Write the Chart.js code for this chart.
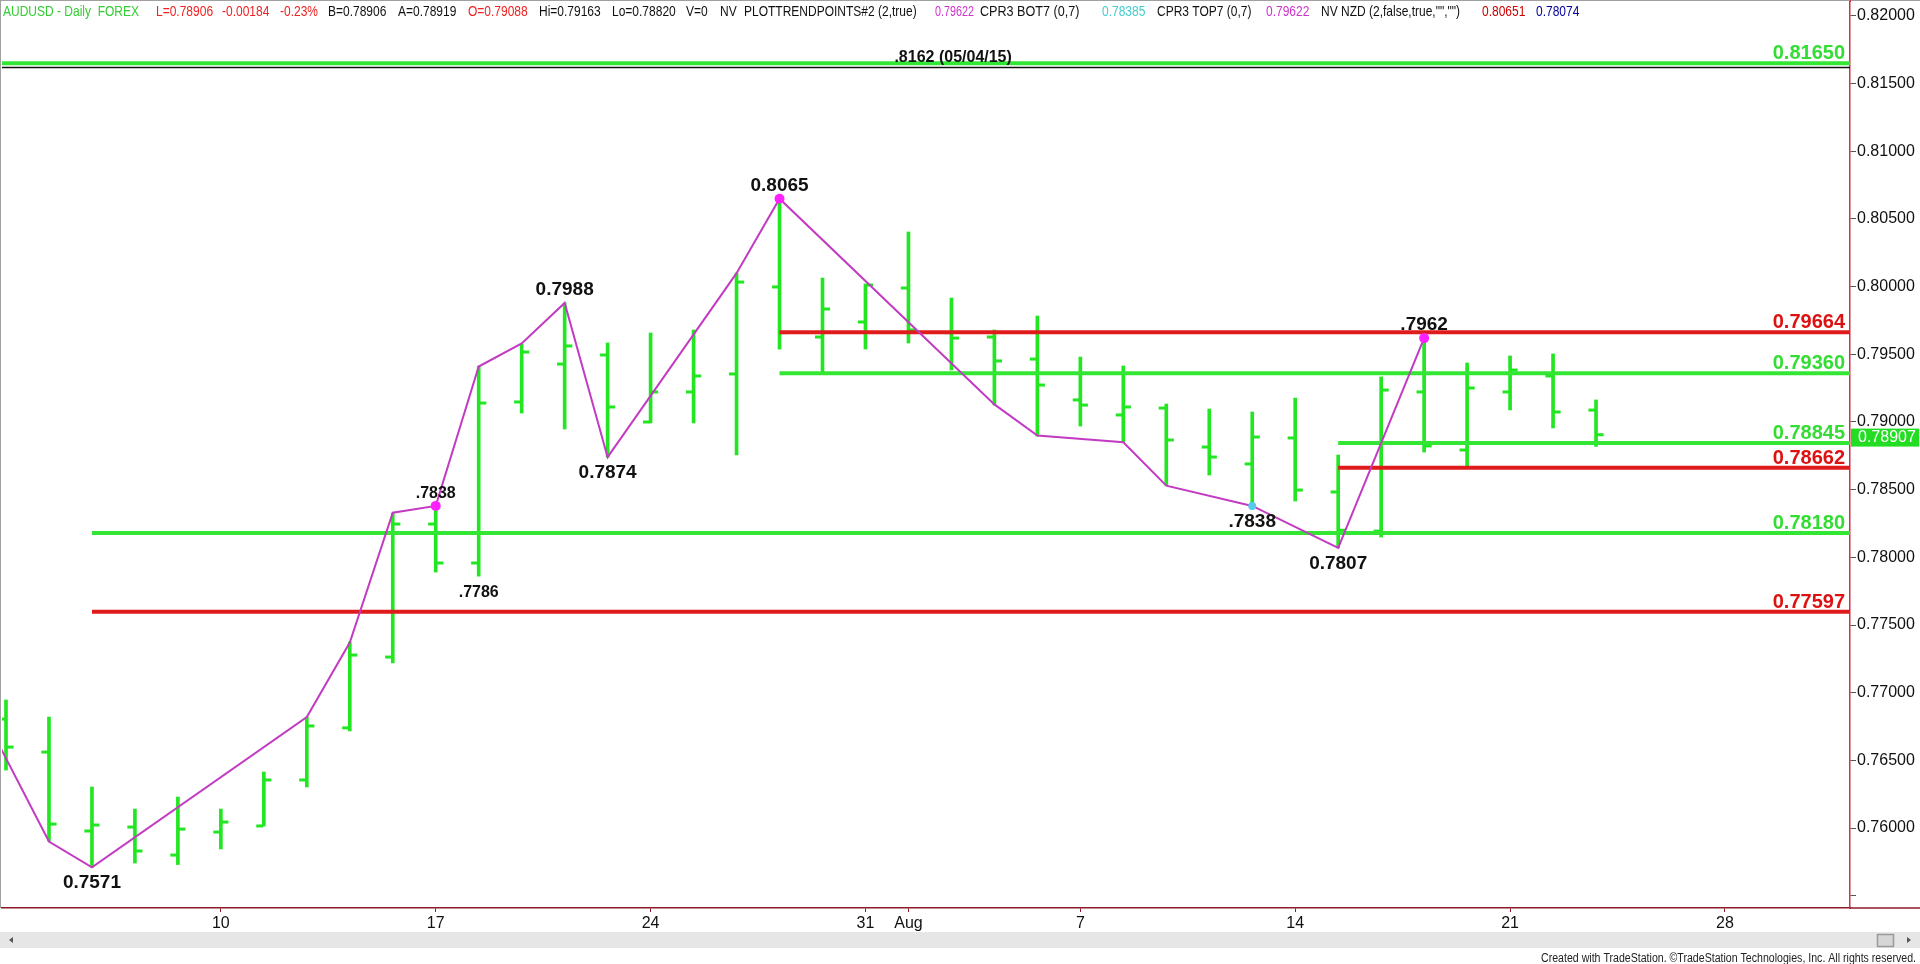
<!DOCTYPE html>
<html lang="en">
<head>
<meta charset="UTF-8">
<title>AUDUSD Daily</title>
<script src="https://cdn.jsdelivr.net/npm/chart.js@4"></script>
<style>
    html, body { margin: 0; padding: 0; background: #fff; }
    canvas { display: block; }
</style>
</head>
<body>
<canvas id="chart" width="1920" height="964"></canvas>
<script>
// daily bars, index 0 = Mon 3 Jul 2017 ... index 37 = Wed 23 Aug 2017
const opens  = [0.76805, 0.76561, 0.75978, 0.76007, 0.75800, 0.75970, 0.76015, 0.76355, 0.76740, 0.77263,
                0.78246, 0.77958, 0.79148, 0.79428, 0.79495, 0.79000, 0.79222, 0.79355, 0.79998, 0.79628,
                0.79739, 0.79990, 0.79660, 0.79628, 0.79465, 0.79163, 0.79052, 0.79103, 0.78815, 0.78690,
                0.78882, 0.78483, 0.78194, 0.79222, 0.78793, 0.79222, 0.79340, 0.79088];
const highs  = [0.76946, 0.76820, 0.76303, 0.76140, 0.76229, 0.76140, 0.76414, 0.76820, 0.77374, 0.78327,
                0.78380, 0.79414, 0.79576, 0.79880, 0.79584, 0.79658, 0.79680, 0.80100, 0.80650, 0.80064,
                0.80020, 0.80404, 0.79916, 0.79680, 0.79783, 0.79480, 0.79414, 0.79133, 0.79096, 0.79074,
                0.79177, 0.78756, 0.79333, 0.79620, 0.79436, 0.79488, 0.79503, 0.79163];
const lows   = [0.76428, 0.75904, 0.75710, 0.75741, 0.75730, 0.75845, 0.76015, 0.76303, 0.76717, 0.77219,
                0.77891, 0.77860, 0.79066, 0.78948, 0.78740, 0.78993, 0.78993, 0.78756, 0.79539, 0.79355,
                0.79539, 0.79584, 0.79384, 0.79125, 0.78896, 0.78970, 0.78852, 0.78534, 0.78608, 0.78380,
                0.78416, 0.78070, 0.78150, 0.78778, 0.78667, 0.79089, 0.78956, 0.78820];
const closes = [0.76598, 0.76029, 0.76022, 0.75830, 0.75992, 0.76044, 0.76355, 0.76754, 0.77278, 0.78246,
                0.77958, 0.79140, 0.79517, 0.79562, 0.79111, 0.79222, 0.79340, 0.80034, 0.79660, 0.79835,
                0.80012, 0.79680, 0.79620, 0.79451, 0.79273, 0.79125, 0.79111, 0.78867, 0.78741, 0.78889,
                0.78497, 0.78200, 0.79236, 0.78823, 0.79251, 0.79384, 0.79074, 0.78906];

// date axis (bar index -> label)
const xTickIdx    = [5, 10, 15, 20, 21, 25, 30, 35, 40];
const xTickLabels = ['10', '17', '24', '31', 'Aug', '7', '14', '21', '28'];

// price axis
const yTicks = [0.755, 0.760, 0.765, 0.770, 0.775, 0.780, 0.785, 0.790, 0.795, 0.800, 0.805, 0.810, 0.815, 0.820];

// swing (trend points) line
const swingIdx = [-1, 1, 2, 7, 8, 9, 10, 11, 12, 13, 14, 17, 18, 23, 24, 26, 27, 29, 31, 33];
const swingVal = [0.7713, 0.7590, 0.7571, 0.7682, 0.7737, 0.7833, 0.7838, 0.7941, 0.7958, 0.7988,
                  0.7874, 0.8010, 0.8065, 0.7913, 0.7890, 0.7885, 0.7853, 0.7838, 0.7807, 0.7962];

// labelled pivots
const pivotIdx    = [2, 10, 11, 13, 14, 18, 29, 31, 33];
const pivotVal    = [0.7571, 0.7838, 0.7786, 0.7988, 0.7874, 0.8065, 0.7838, 0.7807, 0.7962];
const pivotText   = ['0.7571', '.7838', '.7786', '0.7988', '0.7874', '0.8065', '.7838', '0.7807', '.7962'];
const pivotIsHigh = [false, true, false, true, false, true, false, false, true];

// marker dots
const topDotIdx = [10, 18, 33];
const topDotVal = [0.7838, 0.8065, 0.7962];
const botDotIdx = [29];
const botDotVal = [0.7838];

// support / resistance levels (start = bar index where the line begins)
const greenLevels = [0.81650, 0.79360, 0.78845, 0.78180];
const greenStart  = [-1, 18, 31, 2];
const redLevels   = [0.79664, 0.78662, 0.77597];
const redStart    = [18, 31, 2];

const prevHigh     = 0.8162;
const prevHighText = '.8162 (05/04/15)';
const lastPrice    = 0.78907;

// ---------------------------------------------------------------

const X_MIN = -0.093, X_MAX = 42.91;
const TICK_OFF = 0.095;
const BAR_GREEN = '#22e622';
const LVL_GREEN = '#33e633';
const LVL_RED = '#e01b1b';

Chart.defaults.font.family = 'Arial, "Liberation Sans", sans-serif';

const levelSets = [];
greenLevels.forEach((v, i) => levelSets.push({
    type: 'line', order: 3, borderColor: LVL_GREEN, borderWidth: 4, pointRadius: 0,
    data: [{x: greenStart[i], y: v}, {x: X_MAX, y: v}]
}));
redLevels.forEach((v, i) => levelSets.push({
    type: 'line', order: 3, borderColor: LVL_RED, borderWidth: 4, pointRadius: 0,
    data: [{x: redStart[i], y: v}, {x: X_MAX, y: v}]
}));

// status line: text, x, colour, horizontal squeeze
const header = [
    ['AUDUSD - Daily  FOREX', 3, '#33cc33', 0.8],
    ['L=0.78906', 156, '#ee2222', 0.8],
    ['-0.00184', 222, '#ee2222', 0.8],
    ['-0.23%', 280, '#ee2222', 0.8],
    ['B=0.78906', 328, '#111', 0.8],
    ['A=0.78919', 398, '#111', 0.8],
    ['O=0.79088', 468, '#ee2222', 0.8],
    ['Hi=0.79163', 539, '#111', 0.8],
    ['Lo=0.78820', 612, '#111', 0.8],
    ['V=0', 686, '#111', 0.8],
    ['NV', 720, '#111', 0.8],
    ['PLOTTRENDPOINTS#2 (2,true)', 744, '#111', 0.8],
    ['0.79622', 935, '#cc33cc', 0.72],
    ['CPR3 BOT7 (0,7)', 980, '#111', 0.84],
    ['0.78385', 1102, '#44cccc', 0.8],
    ['CPR3 TOP7 (0,7)', 1157, '#111', 0.8],
    ['0.79622', 1266, '#cc33cc', 0.8],
    ['NV NZD (2,false,true,"","")', 1321, '#111', 0.8],
    ['0.80651', 1482, '#cc0000', 0.8],
    ['0.78074', 1536, '#000099', 0.8]
];

const overlay = {
    id: 'overlay',
    afterDatasetsDraw(chart) {
        const {ctx, scales: {x, y}} = chart;
        ctx.save();

        // level values at right edge
        ctx.font = 'bold 20px Arial';
        ctx.textAlign = 'right';
        ctx.textBaseline = 'alphabetic';
        greenLevels.forEach(v => {
            ctx.fillStyle = '#33dd33';
            ctx.fillText(v.toFixed(5), x.right - 5, y.getPixelForValue(v) - 4);
        });
        redLevels.forEach(v => {
            ctx.fillStyle = '#dd1111';
            ctx.fillText(v.toFixed(5), x.right - 5, y.getPixelForValue(v) - 4);
        });

        // previous high label
        ctx.fillStyle = '#111';
        ctx.font = 'bold 16px Arial';
        ctx.textAlign = 'center';
        ctx.fillText(prevHighText, x.getPixelForValue(22.04), y.getPixelForValue(prevHigh) - 5);

        // pivot labels
        pivotIdx.forEach((idx, i) => {
            const small = pivotText[i] === '.7786' || (pivotText[i] === '.7838' && pivotIsHigh[i]);
            ctx.font = 'bold ' + (small ? 16 : 19) + 'px Arial';
            const px = x.getPixelForValue(idx);
            const py = y.getPixelForValue(pivotVal[i]);
            ctx.fillText(pivotText[i], px, pivotIsHigh[i] ? py - 8 : py + 21);
        });
        ctx.restore();
    },
    afterDraw(chart) {
        const {ctx, chartArea, scales: {y}} = chart;
        ctx.save();

        // frame
        ctx.strokeStyle = '#a0a0a0';
        ctx.lineWidth = 1;
        ctx.beginPath();
        ctx.moveTo(0, 0.5); ctx.lineTo(1920, 0.5);
        ctx.moveTo(0.5, 0); ctx.lineTo(0.5, chartArea.bottom);
        ctx.stroke();
        ctx.strokeStyle = '#d03040';
        ctx.beginPath();
        ctx.moveTo(chartArea.right + 0.5, 0); ctx.lineTo(chartArea.right + 0.5, chartArea.top);
        ctx.stroke();
        ctx.strokeStyle = '#8b1a2a';
        ctx.lineWidth = 1.5;
        ctx.beginPath();
        ctx.moveTo(chartArea.right, chartArea.bottom); ctx.lineTo(1920, chartArea.bottom);
        ctx.stroke();

        // header, narrow face
        ctx.font = '15px Arial';
        ctx.textAlign = 'left';
        ctx.textBaseline = 'alphabetic';
        header.forEach(([t, hx, c, sq]) => {
            ctx.save();
            ctx.translate(hx, 16);
            ctx.scale(sq, 1);
            ctx.fillStyle = c;
            ctx.fillText(t, 0, 0);
            ctx.restore();
        });

        // last price box
        const py = y.getPixelForValue(lastPrice);
        ctx.fillStyle = '#22dd22';
        ctx.fillRect(chartArea.right + 1, py - 6, 68, 18);
        ctx.fillStyle = '#fff';
        ctx.font = '16px Arial';
        ctx.textBaseline = 'middle';
        ctx.fillText(lastPrice.toFixed(5), chartArea.right + 8, py + 3);

        // scrollbar
        ctx.fillStyle = '#e6e6e6';
        ctx.fillRect(0, 932, 1920, 16);
        ctx.fillStyle = '#d6d6d6';
        ctx.strokeStyle = '#9a9a9a';
        ctx.fillRect(1877, 934, 16, 12);
        ctx.strokeRect(1877.5, 934.5, 16, 12);
        ctx.fillStyle = '#555';
        ctx.beginPath();
        ctx.moveTo(13, 937); ctx.lineTo(9, 940); ctx.lineTo(13, 943); ctx.closePath();
        ctx.moveTo(1907, 937); ctx.lineTo(1911, 940); ctx.lineTo(1907, 943); ctx.closePath();
        ctx.fill();

        // footer
        ctx.fillStyle = '#222';
        ctx.font = '12px Arial';
        ctx.textAlign = 'right';
        ctx.textBaseline = 'alphabetic';
        ctx.fillText('Created with TradeStation. \u00A9TradeStation Technologies, Inc. All rights reserved.', 1916, 962, 375);
        ctx.restore();
    }
};

new Chart(document.getElementById('chart'), {
    type: 'bar',
    data: {
        datasets: [
            {
                type: 'bar', order: 5,
                data: highs.map((h, i) => ({x: i, y: [lows[i], h]})),
                backgroundColor: BAR_GREEN, barThickness: 3, borderWidth: 0
            },
            {
                type: 'line', order: 4, showLine: false,
                data: opens.map((o, i) => ({x: i - TICK_OFF, y: o})),
                pointStyle: 'line', pointRadius: 3.5, pointBorderWidth: 3, pointBorderColor: BAR_GREEN
            },
            {
                type: 'line', order: 4, showLine: false,
                data: closes.map((c, i) => ({x: i + TICK_OFF, y: c})),
                pointStyle: 'line', pointRadius: 3.5, pointBorderWidth: 3, pointBorderColor: BAR_GREEN
            },
            ...levelSets,
            {
                type: 'line', order: 3, borderColor: '#111', borderWidth: 1.5, pointRadius: 0,
                data: [{x: -1, y: prevHigh}, {x: X_MAX, y: prevHigh}]
            },
            {
                type: 'line', order: 2, borderColor: '#c23bc2', borderWidth: 2, pointRadius: 0,
                data: swingIdx.map((v, i) => ({x: v, y: swingVal[i]}))
            },
            {
                type: 'line', order: 1, showLine: false,
                data: topDotIdx.map((v, i) => ({x: v, y: topDotVal[i]})),
                pointRadius: 5, pointBackgroundColor: '#ff22ff', pointBorderWidth: 0
            },
            {
                type: 'line', order: 1, showLine: false,
                data: botDotIdx.map((v, i) => ({x: v, y: botDotVal[i]})),
                pointRadius: 4, pointBackgroundColor: '#55ccee', pointBorderWidth: 0
            }
        ]
    },
    options: {
        responsive: false,
        animation: false,
        events: [],
        devicePixelRatio: 1,
        layout: { autoPadding: false, padding: { left: 2, top: 2, right: 0, bottom: 0 } },
        plugins: { legend: { display: false }, tooltip: { enabled: false } },
        scales: {
            x: {
                type: 'linear',
                min: X_MIN,
                max: X_MAX,
                offset: false,
                afterBuildTicks: s => { s.ticks = xTickIdx.map(v => ({value: v})); },
                afterFit: s => { s.height = 56; s.paddingLeft = 0; s.paddingRight = 0; },
                ticks: {
                    autoSkip: false, maxRotation: 0, padding: 2,
                    color: '#111', font: { size: 16 },
                    callback: v => xTickLabels[xTickIdx.indexOf(v)]
                },
                grid: { offset: false, drawOnChartArea: false, tickLength: 4, tickColor: '#8b1a2a' },
                border: { color: '#8b1a2a', width: 1.5 }
            },
            y: {
                type: 'linear',
                position: 'right',
                min: 0.754089,
                max: 0.821034,
                afterBuildTicks: s => { s.ticks = yTicks.map(v => ({value: v})); },
                afterFit: s => { s.width = 70; s.paddingTop = 0; s.paddingBottom = 0; },
                ticks: {
                    padding: 1, color: '#111', font: { size: 16 },
                    callback: (v, i) => i === 0 ? '' : v.toFixed(5)
                },
                grid: { drawOnChartArea: false, tickLength: 6, tickColor: '#555' },
                border: { color: '#d03040', width: 1.5 }
            }
        }
    },
    plugins: [overlay]
});
</script>
</body>
</html>
